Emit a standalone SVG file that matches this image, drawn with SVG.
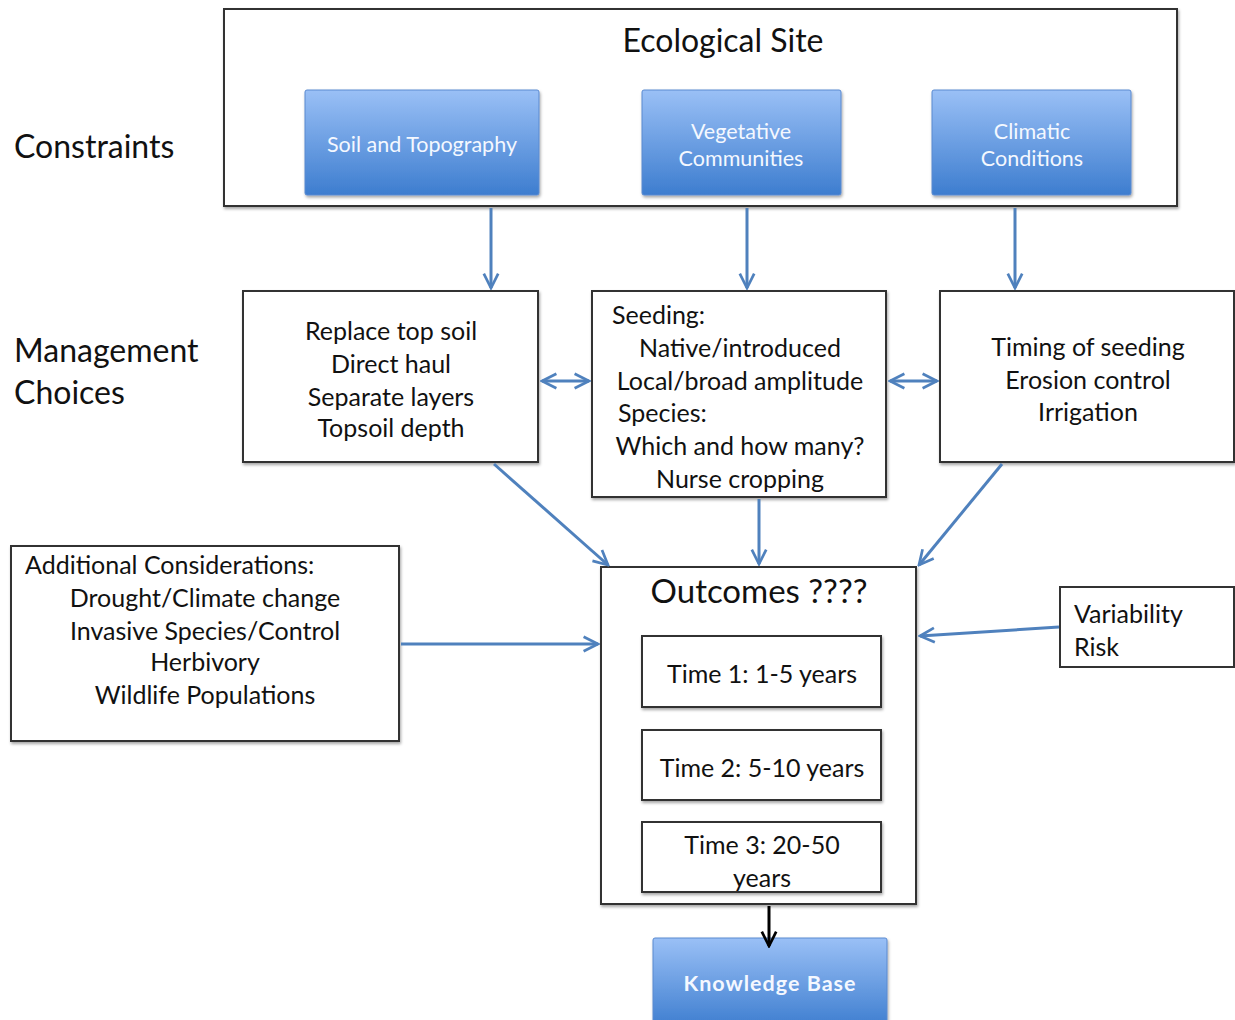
<svg xmlns="http://www.w3.org/2000/svg" width="1235" height="1020" viewBox="0 0 1235 1020">
<style>
text{font-family:Lato,"Open Sans","Liberation Sans",sans-serif;fill:#111}
.box{fill:#fff;stroke:#333;stroke-width:2}
.blue{fill:url(#bg);stroke:#5a8ad0;stroke-width:1}
.bt{fill:#f4f8ff;font-size:21.5px;text-anchor:middle}
.m{font-size:25px}
.c{text-anchor:middle}
.lbl{font-size:32px}
.con{stroke:#4f81bd;stroke-width:3;fill:none}
</style>
<defs>
<linearGradient id="bg" x1="0" y1="0" x2="0" y2="1">
<stop offset="0" stop-color="#9ac0f6"/>
<stop offset="1" stop-color="#3d7dcf"/>
</linearGradient>
<filter id="sh" x="-10%" y="-10%" width="130%" height="130%">
<feDropShadow dx="1" dy="2" stdDeviation="1.5" flood-color="#000" flood-opacity="0.35"/>
</filter>
<marker id="ah" viewBox="0 0 10 10" refX="9" refY="5" markerWidth="6" markerHeight="6" orient="auto-start-reverse" markerUnits="strokeWidth">
<path d="M1,1 L9,5 L1,9" fill="none" stroke="#4f81bd" stroke-width="1.5"/>
</marker>
<marker id="ahk" viewBox="0 0 10 10" refX="9" refY="5" markerWidth="6" markerHeight="6" orient="auto" markerUnits="strokeWidth">
<path d="M1,1 L9,5 L1,9" fill="none" stroke="#000" stroke-width="1.5"/>
</marker>
</defs>
<rect width="1235" height="1020" fill="#fff"/>
<text x="14" y="158" class="lbl">Constraints</text>
<text x="14" y="362" class="lbl">Management</text>
<text x="14" y="404" class="lbl">Choices</text>

<g id="ecological-site">
<rect x="224" y="9" width="953" height="197" class="box" filter="url(#sh)"/>
<text x="723" y="52" class="c" font-size="32">Ecological Site</text>
</g>
<g id="soil">
<rect x="305" y="90" width="234" height="105" rx="2" class="blue" filter="url(#sh)"/>
<text x="422" y="152" class="bt">Soil and Topography</text>
</g>
<g id="vegetative">
<rect x="642" y="90" width="199" height="105" rx="2" class="blue" filter="url(#sh)"/>
<text x="741" y="139" class="bt">Vegetative</text>
<text x="741" y="166" class="bt">Communities</text>
</g>
<g id="climatic">
<rect x="932" y="90" width="199" height="105" rx="2" class="blue" filter="url(#sh)"/>
<text x="1032" y="139" class="bt">Climatic</text>
<text x="1032" y="166" class="bt">Conditions</text>
</g>

<g id="topsoil">
<rect x="243" y="291" width="295" height="171" class="box" filter="url(#sh)"/>
<text class="m c" x="391" y="340">Replace top soil</text>
<text class="m c" x="391" y="373">Direct haul</text>
<text class="m c" x="391" y="406">Separate layers</text>
<text class="m c" x="391" y="437">Topsoil depth</text>
</g>
<g id="seeding">
<rect x="592" y="291" width="294" height="206" class="box" filter="url(#sh)"/>
<text class="m" x="612" y="324">Seeding:</text>
<text class="m c" x="740" y="357">Native/introduced</text>
<text class="m c" x="740" y="390">Local/broad amplitude</text>
<text class="m" x="618" y="422">Species:</text>
<text class="m c" x="740" y="455">Which and how many?</text>
<text class="m c" x="740" y="488">Nurse cropping</text>
</g>
<g id="timing">
<rect x="940" y="291" width="294" height="171" class="box" filter="url(#sh)"/>
<text class="m c" x="1088" y="356">Timing of seeding</text>
<text class="m c" x="1088" y="389">Erosion control</text>
<text class="m c" x="1088" y="421">Irrigation</text>
</g>

<g id="additional">
<rect x="11" y="546" width="388" height="195" class="box" filter="url(#sh)"/>
<text class="m" x="25" y="574">Additional Considerations:</text>
<text class="m c" x="205" y="607">Drought/Climate change</text>
<text class="m c" x="205" y="640">Invasive Species/Control</text>
<text class="m c" x="205" y="671">Herbivory</text>
<text class="m c" x="205" y="704">Wildlife Populations</text>
</g>
<g id="outcomes">
<rect x="601" y="567" width="315" height="337" class="box" filter="url(#sh)"/>
<text class="c" x="759" y="603" font-size="33">Outcomes ????</text>
</g>
<g id="time1">
<rect x="642" y="636" width="239" height="71" class="box" filter="url(#sh)"/>
<text class="m c" x="762" y="683">Time 1: 1-5 years</text>
</g>
<g id="time2">
<rect x="642" y="730" width="239" height="70" class="box" filter="url(#sh)"/>
<text class="m c" x="762" y="777">Time 2: 5-10 years</text>
</g>
<g id="time3">
<rect x="642" y="822" width="239" height="70" class="box" filter="url(#sh)"/>
<text class="m c" x="762" y="854">Time 3: 20-50</text>
<text class="m c" x="762" y="887">years</text>
</g>
<g id="variability">
<rect x="1060" y="587" width="174" height="80" class="box"/>
<text class="m" x="1074" y="623">Variability</text>
<text class="m" x="1074" y="656">Risk</text>
</g>
<g id="knowledge-base">
<rect x="653" y="938" width="234" height="90" rx="2" class="blue" filter="url(#sh)"/>
<text x="770" y="991" class="bt" font-size="26" font-weight="bold" letter-spacing="1">Knowledge Base</text>
</g>

<g id="connectors">
<line class="con" x1="491" y1="208" x2="491" y2="288" marker-end="url(#ah)"/>
<line class="con" x1="747" y1="208" x2="747" y2="288" marker-end="url(#ah)"/>
<line class="con" x1="1015" y1="208" x2="1015" y2="288" marker-end="url(#ah)"/>
<line class="con" x1="542" y1="381" x2="589" y2="381" marker-start="url(#ah)" marker-end="url(#ah)"/>
<line class="con" x1="890" y1="381" x2="937" y2="381" marker-start="url(#ah)" marker-end="url(#ah)"/>
<line class="con" x1="494" y1="464" x2="608" y2="565" marker-end="url(#ah)"/>
<line class="con" x1="759" y1="499" x2="759" y2="564" marker-end="url(#ah)"/>
<line class="con" x1="1002" y1="464" x2="919" y2="565" marker-end="url(#ah)"/>
<line class="con" x1="401" y1="644" x2="598" y2="644" marker-end="url(#ah)"/>
<line class="con" x1="1059" y1="627" x2="920" y2="636" marker-end="url(#ah)"/>
<line x1="769" y1="906" x2="769" y2="946" stroke="#000" stroke-width="3" marker-end="url(#ahk)"/>
</g>
</svg>
